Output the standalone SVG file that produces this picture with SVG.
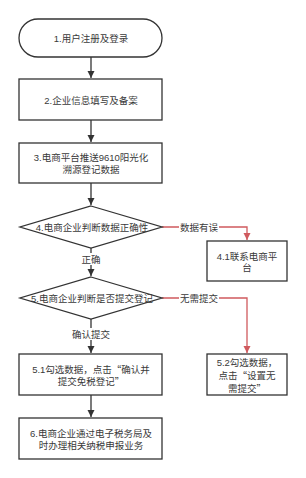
<svg xmlns="http://www.w3.org/2000/svg" width="306" height="478" viewBox="0 0 306 478">
<style>
.box{fill:#fff;stroke:#333;stroke-width:1.3}
.t{font-family:"Liberation Sans","Noto Sans CJK SC",sans-serif;font-size:9.5px;fill:#3a3a3a;text-anchor:middle;dominant-baseline:central}
.q{font-family:"Noto Sans CJK SC",sans-serif}
.ln{fill:none;stroke:#333;stroke-width:1.3}
.rl{fill:none;stroke:#d05a5e;stroke-width:1.3}
.lb{fill:#fff}
</style>
<defs>
<marker id="ab" markerWidth="8" markerHeight="8" refX="7" refY="4" orient="auto" markerUnits="userSpaceOnUse"><path d="M0,0.5 L7,4 L0,7.5 Z" fill="#333"/></marker>
<marker id="ar" markerWidth="8" markerHeight="8" refX="7" refY="4" orient="auto" markerUnits="userSpaceOnUse"><path d="M0,0.5 L7,4 L0,7.5 Z" fill="#d05a5e"/></marker>
</defs>
<rect width="306" height="478" fill="#fff"/>
<g id="connectors">
<line class="ln" x1="91" y1="57" x2="91" y2="78" marker-end="url(#ab)"/>
<line class="ln" x1="91" y1="120" x2="91" y2="142" marker-end="url(#ab)"/>
<line class="ln" x1="91" y1="183" x2="91" y2="205" marker-end="url(#ab)"/>
<line class="ln" x1="91" y1="248" x2="91" y2="276" marker-end="url(#ab)"/>
<line class="ln" x1="91" y1="319" x2="91" y2="353" marker-end="url(#ab)"/>
<line class="ln" x1="91" y1="395" x2="91" y2="417" marker-end="url(#ab)"/>
<path class="rl" d="M162,227 H247 V240" marker-end="url(#ar)"/>
<path class="rl" d="M162,298 H247 V353" marker-end="url(#ar)"/>
<rect class="lb" x="179" y="221" width="40" height="12"/>
<text class="t" x="199" y="227">数据有误</text>
<rect class="lb" x="179" y="292" width="40" height="12"/>
<text class="t" x="199" y="298">无需提交</text>
<rect class="lb" x="80" y="253" width="22" height="12"/>
<text class="t" x="91" y="259">正确</text>
<rect class="lb" x="71" y="328" width="40" height="12"/>
<text class="t" x="91" y="334">确认提交</text>
</g>
<g id="n1">
<rect class="box" x="19" y="19" width="143" height="38" rx="19" ry="19"/>
<text class="t" x="91" y="38">1.用户注册及登录</text>
</g>
<g id="n2">
<rect class="box" x="19" y="79" width="143" height="41"/>
<text class="t" x="91" y="100">2.企业信息填写及备案</text>
</g>
<g id="n3">
<rect class="box" x="19" y="143" width="143" height="40"/>
<text class="t" x="91" y="157">3.电商平台推送9610阳光化</text>
<text class="t" x="91" y="169">溯源登记数据</text>
</g>
<g id="n4">
<polygon class="box" points="91,206 162,227 91,248 20,227"/>
<text class="t" x="92" y="227">4.电商企业判断数据正确性</text>
</g>
<g id="n41">
<rect class="box" x="207" y="241" width="80" height="40"/>
<text class="t" x="247" y="256">4.1联系电商平</text>
<text class="t" x="247" y="267">台</text>
</g>
<g id="n5">
<polygon class="box" points="91,277 162,298 91,319 20,298"/>
<text class="t" x="92" y="298">5.电商企业判断是否提交登记</text>
</g>
<g id="n51">
<rect class="box" x="19" y="354" width="143" height="41"/>
<text class="t" x="91" y="369">5.1勾选数据，点击<tspan class="q">“</tspan>确认并</text>
<text class="t" x="91" y="381">提交免税登记<tspan class="q">”</tspan></text>
</g>
<g id="n52">
<rect class="box" x="207" y="354" width="80" height="41"/>
<text class="t" x="247" y="362">5.2勾选数据，</text>
<text class="t" x="247" y="375">点击<tspan class="q">“</tspan>设置无</text>
<text class="t" x="247" y="388">需提交<tspan class="q">”</tspan></text>
</g>
<g id="n6">
<rect class="box" x="19" y="418" width="143" height="41"/>
<text class="t" x="91" y="433">6.电商企业通过电子税务局及</text>
<text class="t" x="91" y="445">时办理相关纳税申报业务</text>
</g>
</svg>
